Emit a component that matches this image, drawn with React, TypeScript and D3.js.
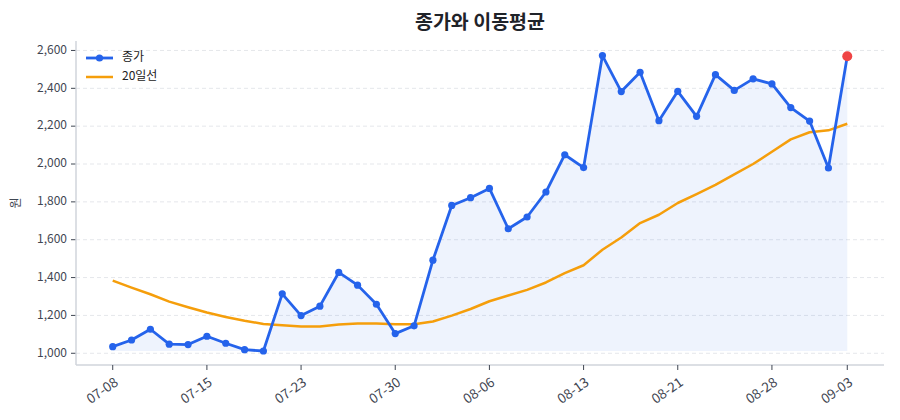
import React from 'react'
import { scaleLinear, line, area, min } from 'd3'

// closing price with 20-day moving average, Korean labels

const dates = [
  '07-08', '07-09', '07-10', '07-11', '07-12',
  '07-15', '07-16', '07-18', '07-19', '07-22',
  '07-23', '07-24', '07-25', '07-26', '07-29',
  '07-30', '07-31', '08-01', '08-02', '08-05',
  '08-06', '08-07', '08-08', '08-09', '08-12',
  '08-13', '08-14', '08-16', '08-19', '08-20',
  '08-21', '08-22', '08-23', '08-26', '08-27',
  '08-28', '08-29', '08-30', '09-02', '09-03',
]

const close = [
  1035, 1070, 1127, 1048, 1046, 1090, 1053, 1019, 1012, 1314,
  1199, 1249, 1427, 1360, 1259, 1104, 1145, 1492, 1781, 1822,
  1871, 1658, 1720, 1852, 2049, 1981, 2573, 2383, 2485, 2229,
  2384, 2252, 2472, 2389, 2450, 2423, 2298, 2227, 1979, 2569,
]

const ma20 = [
  1384, 1347, 1312, 1273, 1243, 1215, 1192, 1172, 1155, 1148,
  1141, 1141, 1152, 1157, 1157, 1153, 1153, 1168, 1199, 1234,
  1275, 1305, 1335, 1374, 1423, 1465, 1547, 1612, 1688, 1732,
  1794, 1841, 1890, 1945, 2000, 2065, 2130, 2168, 2178, 2213,
]

const tickIdx = [0, 5, 10, 15, 20, 25, 30, 35, 39]
const yTicks = [1000, 1200, 1400, 1600, 1800, 2000, 2200, 2400, 2600]

const BLUE = '#2563eb'
const ORANGE = '#f59e0b'
const RED = '#ef4444'
const GRID = '#e5e7eb'
const SPINE = '#d1d5db'
const TEXT = '#3f4652'
const FONT = '"Noto Sans CJK KR", "Noto Sans", sans-serif'

export default function App() {
  const width = 900
  const height = 420
  const m = { left: 76, right: 884, top: 41, bottom: 365 }

  const x = scaleLinear().domain([-1.95, 40.95]).range([m.left, m.right])
  const y = scaleLinear().domain([938, 2650]).range([m.bottom, m.top])
  const base = min(close) ?? 1000

  const closeLine = line<number>()
    .x((_, i) => x(i))
    .y((d) => y(d))(close)
  const maLine = line<number>()
    .x((_, i) => x(i))
    .y((d) => y(d))(ma20)
  const fill = area<number>()
    .x((_, i) => x(i))
    .y0(y(base))
    .y1((d) => y(d))(close)

  const last = close.length - 1

  return (
    <svg
      width={width}
      height={height}
      style={{ position: 'absolute', left: 0, top: 0, background: '#fff' }}
      fontFamily={FONT}
    >
      <text x={(m.left + m.right) / 2} y={29} textAnchor="middle" fontSize={19.5} fontWeight={700} fill="#1f2329">
        종가와 이동평균
      </text>

      {yTicks.map((t) => (
        <g key={t}>
          <line x1={m.left} x2={m.right} y1={y(t)} y2={y(t)} stroke={GRID} strokeWidth={1} strokeDasharray="4 3" />
          <line x1={m.left - 5} x2={m.left} y1={y(t)} y2={y(t)} stroke={TEXT} strokeWidth={1} />
          <text x={m.left - 9} y={y(t)} textAnchor="end" dominantBaseline="middle" fontSize={12} fill={TEXT}>
            {t.toLocaleString('en-US')}
          </text>
        </g>
      ))}

      <text transform={`translate(17, ${(m.top + m.bottom) / 2}) rotate(-90)`} textAnchor="middle" dominantBaseline="middle" fontSize={12} fill={TEXT}>
        원
      </text>

      {fill && <path d={fill} fill={BLUE} fillOpacity={0.08} />}
      {maLine && <path d={maLine} fill="none" stroke={ORANGE} strokeWidth={2.5} strokeLinejoin="round" />}
      {closeLine && <path d={closeLine} fill="none" stroke={BLUE} strokeWidth={2.8} strokeLinejoin="round" />}
      {close.map((d, i) =>
        i === last ? null : <circle key={i} cx={x(i)} cy={y(d)} r={3.6} fill={BLUE} />
      )}
      <circle cx={x(last)} cy={y(close[last])} r={5} fill={RED} />

      <line x1={m.left} x2={m.left} y1={m.top} y2={m.bottom} stroke={SPINE} strokeWidth={1.5} />
      <line x1={m.left} x2={m.right} y1={m.bottom} y2={m.bottom} stroke={SPINE} strokeWidth={1.5} />

      {tickIdx.map((i) => (
        <g key={i}>
          <line x1={x(i)} x2={x(i)} y1={m.bottom} y2={m.bottom + 5} stroke={TEXT} strokeWidth={1} />
          <text
            transform={`translate(${x(i) - 1}, ${m.bottom + 9}) rotate(-35)`}
            textAnchor="end"
            dominantBaseline="hanging"
            fontSize={13.5}
            fill={TEXT}
          >
            {dates[i]}
          </text>
        </g>
      ))}

      <g fontSize={12} fill="#222">
        <line x1={86} x2={113} y1={58} y2={58} stroke={BLUE} strokeWidth={2.8} />
        <circle cx={99.5} cy={58} r={3.6} fill={BLUE} />
        <text x={122} y={58} dominantBaseline="middle">종가</text>
        <line x1={86} x2={113} y1={77} y2={77} stroke={ORANGE} strokeWidth={2.5} />
        <text x={122} y={77} dominantBaseline="middle">20일선</text>
      </g>
    </svg>
  )
}
